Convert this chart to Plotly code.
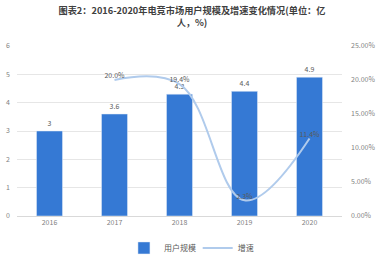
import plotly.graph_objects as go

years = ["2016", "2017", "2018", "2019", "2020"]
users = [3.0, 3.6, 4.3, 4.4, 4.9]
user_labels = ["3", "3.6", "4.3", "4.4", "4.9"]
growth_years = ["2017", "2018", "2019", "2020"]
growth = [0.200, 0.194, 0.023, 0.114]
growth_labels = ["20.0%", "19.4%", "2.3%", "11.4%"]

font_family = "Noto Sans CJK SC, Noto Sans, sans-serif"

fig = go.Figure()
fig.add_trace(go.Bar(
    x=years, y=users, name="用户规模",
    marker_color="#3579d4", width=0.4,
    text=user_labels, textposition="outside",
    textfont=dict(size=7, color="#595959"), cliponaxis=False,
    legend="legend",
))
fig.add_trace(go.Scatter(
    x=growth_years, y=growth, name="增速", yaxis="y2",
    mode="lines+text", line=dict(color="#b0cbec", width=2, shape="spline", smoothing=1.1),
    text=growth_labels, textposition="top center",
    textfont=dict(size=7, color="#595959"), cliponaxis=False,
    legend="legend2",
))

leg_common = dict(orientation="h", yref="container", y=0.05, yanchor="middle",
                  itemwidth=30, font=dict(size=8, color="#595959"),
                  bgcolor="rgba(0,0,0,0)")

fig.update_layout(
    width=384, height=261,
    margin=dict(l=17, r=42, t=46, b=45, autoexpand=False),
    paper_bgcolor="white", plot_bgcolor="white",
    font=dict(family=font_family, size=7, color="#7f7f7f"),
    title=dict(
        text="<b>图表2：2016-2020年电竞市场用户规模及增速变化情况(单位：亿</b><br><b>人，%)</b>",
        x=0.5, xanchor="center", yref="container", y=0.948, yanchor="middle",
        font=dict(size=9.2, color="#404040", family=font_family),
    ),
    xaxis=dict(showgrid=False, showline=True, linecolor="#d9d9d9", ticks="",
               tickfont=dict(size=7, color="#7f7f7f")),
    yaxis=dict(range=[0, 6], dtick=1, showgrid=True, gridcolor="#e6e6e6",
               zeroline=False, showline=False, ticks="", ticklabelstandoff=6,
               tickfont=dict(size=7, color="#7f7f7f")),
    yaxis2=dict(range=[0, 0.25], dtick=0.05, tickformat=".2%", overlaying="y",
                side="right", showgrid=False, zeroline=False, ticks="",
                ticklabelstandoff=8, tickfont=dict(size=7, color="#7f7f7f")),
    legend=dict(leg_common, x=0.566, xanchor="right"),
    legend2=dict(leg_common, x=0.556, xanchor="left"),
    showlegend=True,
)

fig.write_html("out.html")
